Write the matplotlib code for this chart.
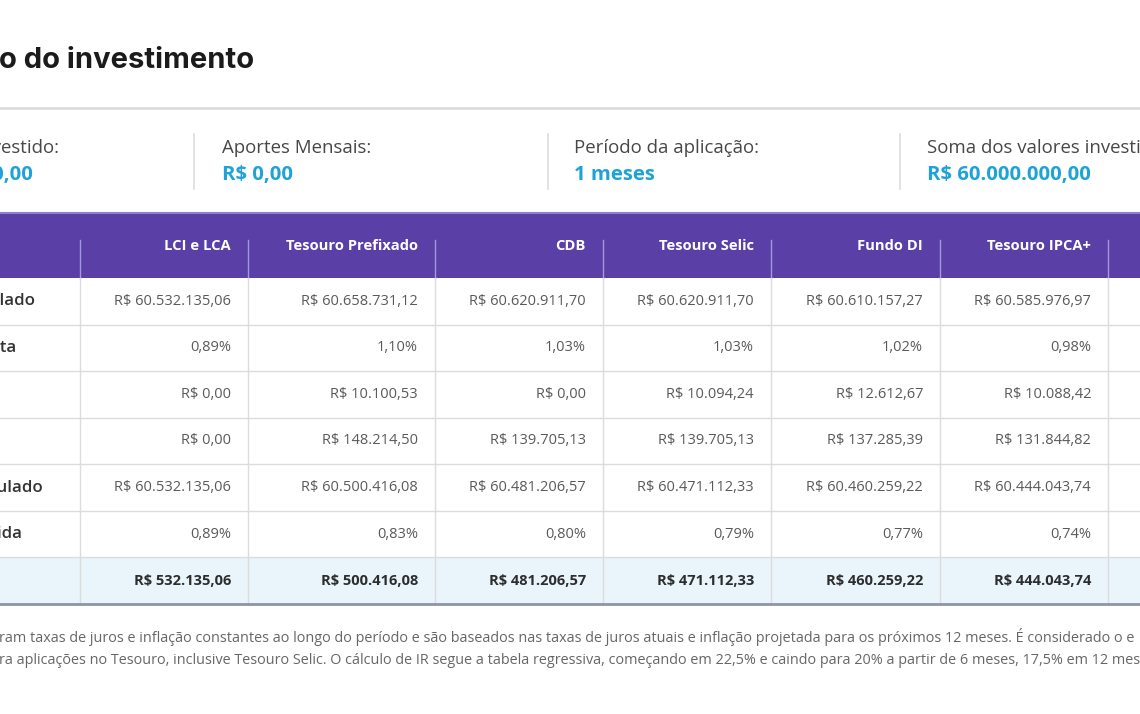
import matplotlib.pyplot as plt
from matplotlib.patches import Rectangle

# --- data ---
products = ["LCI e LCA", "Tesouro Prefixado", "CDB", "Tesouro Selic", "Fundo DI", "Tesouro IPCA+"]
row_labels = ["Valor bruto acumulado", "Rentabilidade bruta", "Custos", "IR",
              "Valor líquido acumulado", "Rentabilidade líquida", "Lucro"]

valor_bruto = [60532135.06, 60658731.12, 60620911.70, 60620911.70, 60610157.27, 60585976.97]
rent_bruta = [0.89, 1.10, 1.03, 1.03, 1.02, 0.98]
custos = [0.00, 10100.53, 0.00, 10094.24, 12612.67, 10088.42]
imposto = [0.00, 148214.50, 139705.13, 139705.13, 137285.39, 131844.82]
valor_liquido = [60532135.06, 60500416.08, 60481206.57, 60471112.33, 60460259.22, 60444043.74]
rent_liquida = [0.89, 0.83, 0.80, 0.79, 0.77, 0.74]
lucro = [532135.06, 500416.08, 481206.57, 471112.33, 460259.22, 444043.74]

summary_labels = ["Valor Investido:", "Aportes Mensais:", "Período da aplicação:", "Soma dos valores investidos:"]
summary_values = ["R$ 60.000.000,00", "R$ 0,00", "1 meses", "R$ 60.000.000,00"]

footnote = [
    "ram taxas de juros e inflação constantes ao longo do período e são baseados nas taxas de juros atuais e inflação projetada para os próximos 12 meses. É considerado o e",
    "ra aplicações no Tesouro, inclusive Tesouro Selic. O cálculo de IR segue a tabela regressiva, começando em 22,5% e caindo para 20% a partir de 6 meses, 17,5% em 12 meses",
]


def brl(v):
    s = f"{v:,.2f}".replace(",", "X").replace(".", ",").replace("X", ".")
    return "R$ " + s


def pct(v):
    return f"{v:.2f}%".replace(".", ",")


table = [
    [brl(v) for v in valor_bruto],
    [pct(v) for v in rent_bruta],
    [brl(v) for v in custos],
    [brl(v) for v in imposto],
    [brl(v) for v in valor_liquido],
    [pct(v) for v in rent_liquida],
    [brl(v) for v in lucro],
]

# --- layout (pixels) ---
W, H = 1140, 714
col_edges = [80, 248, 435, 603, 771, 940, 1108]
head_top, head_bot, body_bot = 213, 278, 604
row_h = (body_bot - head_bot) / len(row_labels)
label_end_x = [35, 16, None, None, 43, 22, None]
summary_x = [59, 222, 574, 927]
summary_val_x = [33, 222, 574, 927]
summary_sep = [194, 548, 900]

purple = "#5a3fa6"
blue = "#1ea3d8"
grid = "#dcdcdc"
body_font = "Open Sans"

fig = plt.figure(figsize=(W / 100, H / 100), dpi=100)
ax = fig.add_axes([0, 0, 1, 1])
ax.set_xlim(0, W)
ax.set_ylim(H, 0)
ax.axis("off")

# title and rule
ax.text(-1, 60, "o do investimento", fontsize=21, fontweight="bold", family="Inter",
        color="#1b1b1b", va="center", ha="left")
ax.plot([0, W], [108, 108], color="#d9d9d9", lw=1.8)

# summary strip
for i, (lab, val) in enumerate(zip(summary_labels, summary_values)):
    ha = "right" if i == 0 else "left"
    ax.text(summary_x[i], 148, lab, fontsize=13.4, family=body_font, color="#474747",
            ha=ha, va="center")
    ax.text(summary_val_x[i], 175, val, fontsize=14.6, family=body_font, fontweight="bold",
            color=blue, ha=ha, va="center")
for x in summary_sep:
    ax.plot([x, x], [134, 189], color="#dddddd", lw=1.2)

# header band
ax.add_patch(Rectangle((0, head_top), W, head_bot - head_top, color=purple, lw=0))
ax.plot([0, W], [head_top, head_top], color="#8f7fd0", lw=1.5)
for x in col_edges:
    ax.plot([x, x], [240, head_bot], color="#a497dc", lw=1.0)
for j, name in enumerate(products):
    ax.text(col_edges[j + 1] - 17, 246, name, fontsize=10.6, family=body_font,
            fontweight="bold", color="white", ha="right", va="center")

# body
n = len(row_labels)
ax.add_patch(Rectangle((0, head_bot + (n - 1) * row_h), W, row_h, color="#e9f5fb", lw=0))
for i in range(1, n):
    y = head_bot + i * row_h
    ax.plot([0, W], [y, y], color=grid, lw=1.0)
for x in col_edges:
    ax.plot([x, x], [head_bot, body_bot], color=grid, lw=1.0)
ax.plot([0, W], [body_bot, body_bot], color="#8c94a8", lw=2.0)

for i, row in enumerate(table):
    yc = head_bot + (i + 0.5) * row_h
    last = i == n - 1
    if label_end_x[i] is not None:
        ax.text(label_end_x[i], yc, row_labels[i], fontsize=12.2, family=body_font,
                fontweight="semibold", color="#333333", ha="right", va="center")
    for j, cell in enumerate(row):
        ax.text(col_edges[j + 1] - 17, yc, cell, fontsize=10.5, family=body_font,
                fontweight="bold" if last else "normal",
                color="#2d2d2d" if last else "#5a5a5a", ha="right", va="center")

# footnote
for k, line in enumerate(footnote):
    ax.text(-1, 637 + k * 23, line, fontsize=10.4, family=body_font, color="#666666",
            ha="left", va="center")

fig.savefig("out.png", dpi=100)
